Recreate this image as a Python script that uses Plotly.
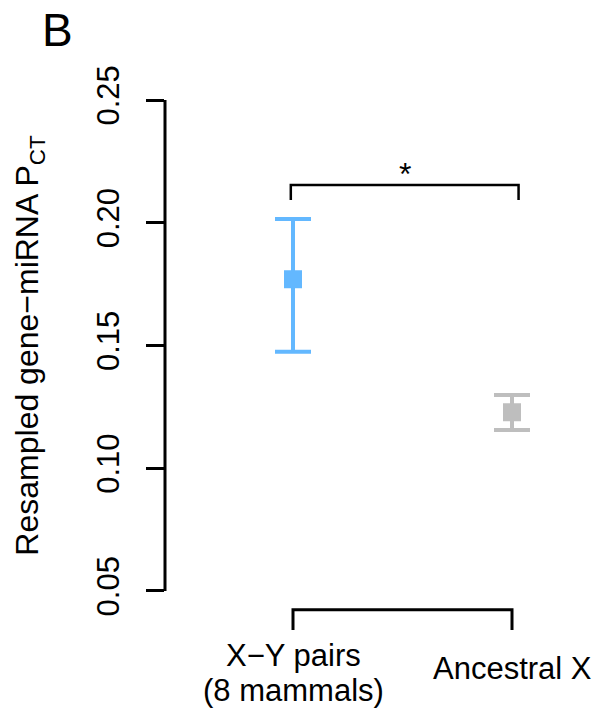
import plotly.graph_objects as go

# Resampled gene-miRNA P_CT with 95% intervals for the two gene sets
group_labels = [["X\u2212Y pairs", "(8 mammals)"], ["Ancestral X"]]
group_pos = [1, 2]
means = [0.1770, 0.1228]
upper = [0.2015, 0.1298]
lower = [0.1475, 0.1156]
colors = ["#63B8FF", "#BEBEBE"]

y_ticks = [0.05, 0.10, 0.15, 0.20, 0.25]
y_ticklabels = ["0.05", "0.10", "0.15", "0.20", "0.25"]

# significance bracket between the groups
sig_label = "*"
sig_x = [0.99, 2.03]
sig_y_top = 0.2154
sig_y_foot = 0.2093

FONT = "Liberation Sans, Arial, Helvetica, sans-serif"
W, H = 597, 714
M_L, M_R, M_T, M_B = 165, 17, 51, 74
Y_RANGE = [0.03, 0.27]
X_RANGE = [0.4155, 2.3105]
PLOT_H = H - M_T - M_B


def paper_y(px):
    """Convert a pixel row of the page to a paper y coordinate."""
    return (H - M_B - px) / PLOT_H


fig = go.Figure()
for pos, m, hi, lo, c in zip(group_pos, means, upper, lower, colors):
    fig.add_trace(go.Scatter(
        x=[pos], y=[m], mode="markers",
        marker=dict(symbol="square", size=18, color=c, line=dict(width=0)),
        error_y=dict(type="data", symmetric=False,
                     array=[hi - m], arrayminus=[m - lo],
                     color=c, thickness=4, width=18),
        showlegend=False, hoverinfo="skip",
    ))

# left axis line spanning only the tick range
fig.add_shape(type="line", xref="paper", yref="y", x0=0, x1=0,
              y0=y_ticks[0], y1=y_ticks[-1], line=dict(color="black", width=3))

# category bracket below the points (acts as the x axis)
axis_y, foot_y = 0.0423, 0.0341
fig.add_shape(type="path", xref="x", yref="y",
              path=f"M {group_pos[0]},{foot_y} L {group_pos[0]},{axis_y} "
                   f"L {group_pos[1]},{axis_y} L {group_pos[1]},{foot_y}",
              line=dict(color="black", width=3))

# significance bracket
fig.add_shape(type="path", xref="x", yref="y",
              path=f"M {sig_x[0]},{sig_y_foot} L {sig_x[0]},{sig_y_top} "
                   f"L {sig_x[1]},{sig_y_top} L {sig_x[1]},{sig_y_foot}",
              line=dict(color="black", width=2.5))
fig.add_annotation(x=sum(sig_x) / 2, y=sig_y_top, xref="x", yref="y",
                   text=sig_label, showarrow=False, yanchor="bottom", yshift=-9,
                   font=dict(family=FONT, size=32, color="black"))

# category labels (one annotation per text line)
label_rows = {1: [655, 690], 2: [668]}
for pos, lines in zip(group_pos, group_labels):
    for txt, row in zip(lines, label_rows[pos]):
        fig.add_annotation(x=pos, y=paper_y(row), xref="x", yref="paper",
                           text=txt, showarrow=False, borderpad=0,
                           xanchor="center", yanchor="middle",
                           font=dict(family=FONT, size=31, color="black"))

# panel letter
fig.add_annotation(x=-0.258, y=paper_y(30), xref="paper", yref="paper",
                   text="B", showarrow=False, xanchor="center",
                   yanchor="middle",
                   font=dict(family=FONT, size=46, color="black"))

fig.update_xaxes(range=X_RANGE, visible=False, showgrid=False, zeroline=False)
fig.update_yaxes(
    range=Y_RANGE, tickmode="array", tickvals=y_ticks, ticktext=y_ticklabels,
    ticks="outside", ticklen=18, tickwidth=3, tickcolor="black",
    tickangle=-90, ticklabelstandoff=15,
    tickfont=dict(family=FONT, size=31, color="black"),
    showline=False, showgrid=False, zeroline=False,
    title=dict(text="Resampled gene\u2212miRNA P<sub>CT</sub>", standoff=42,
               font=dict(family=FONT, size=32, color="black")),
)
fig.update_layout(
    width=W, height=H, margin=dict(l=M_L, r=M_R, t=M_T, b=M_B),
    paper_bgcolor="white", plot_bgcolor="white",
)
fig.write_html("out.html")
